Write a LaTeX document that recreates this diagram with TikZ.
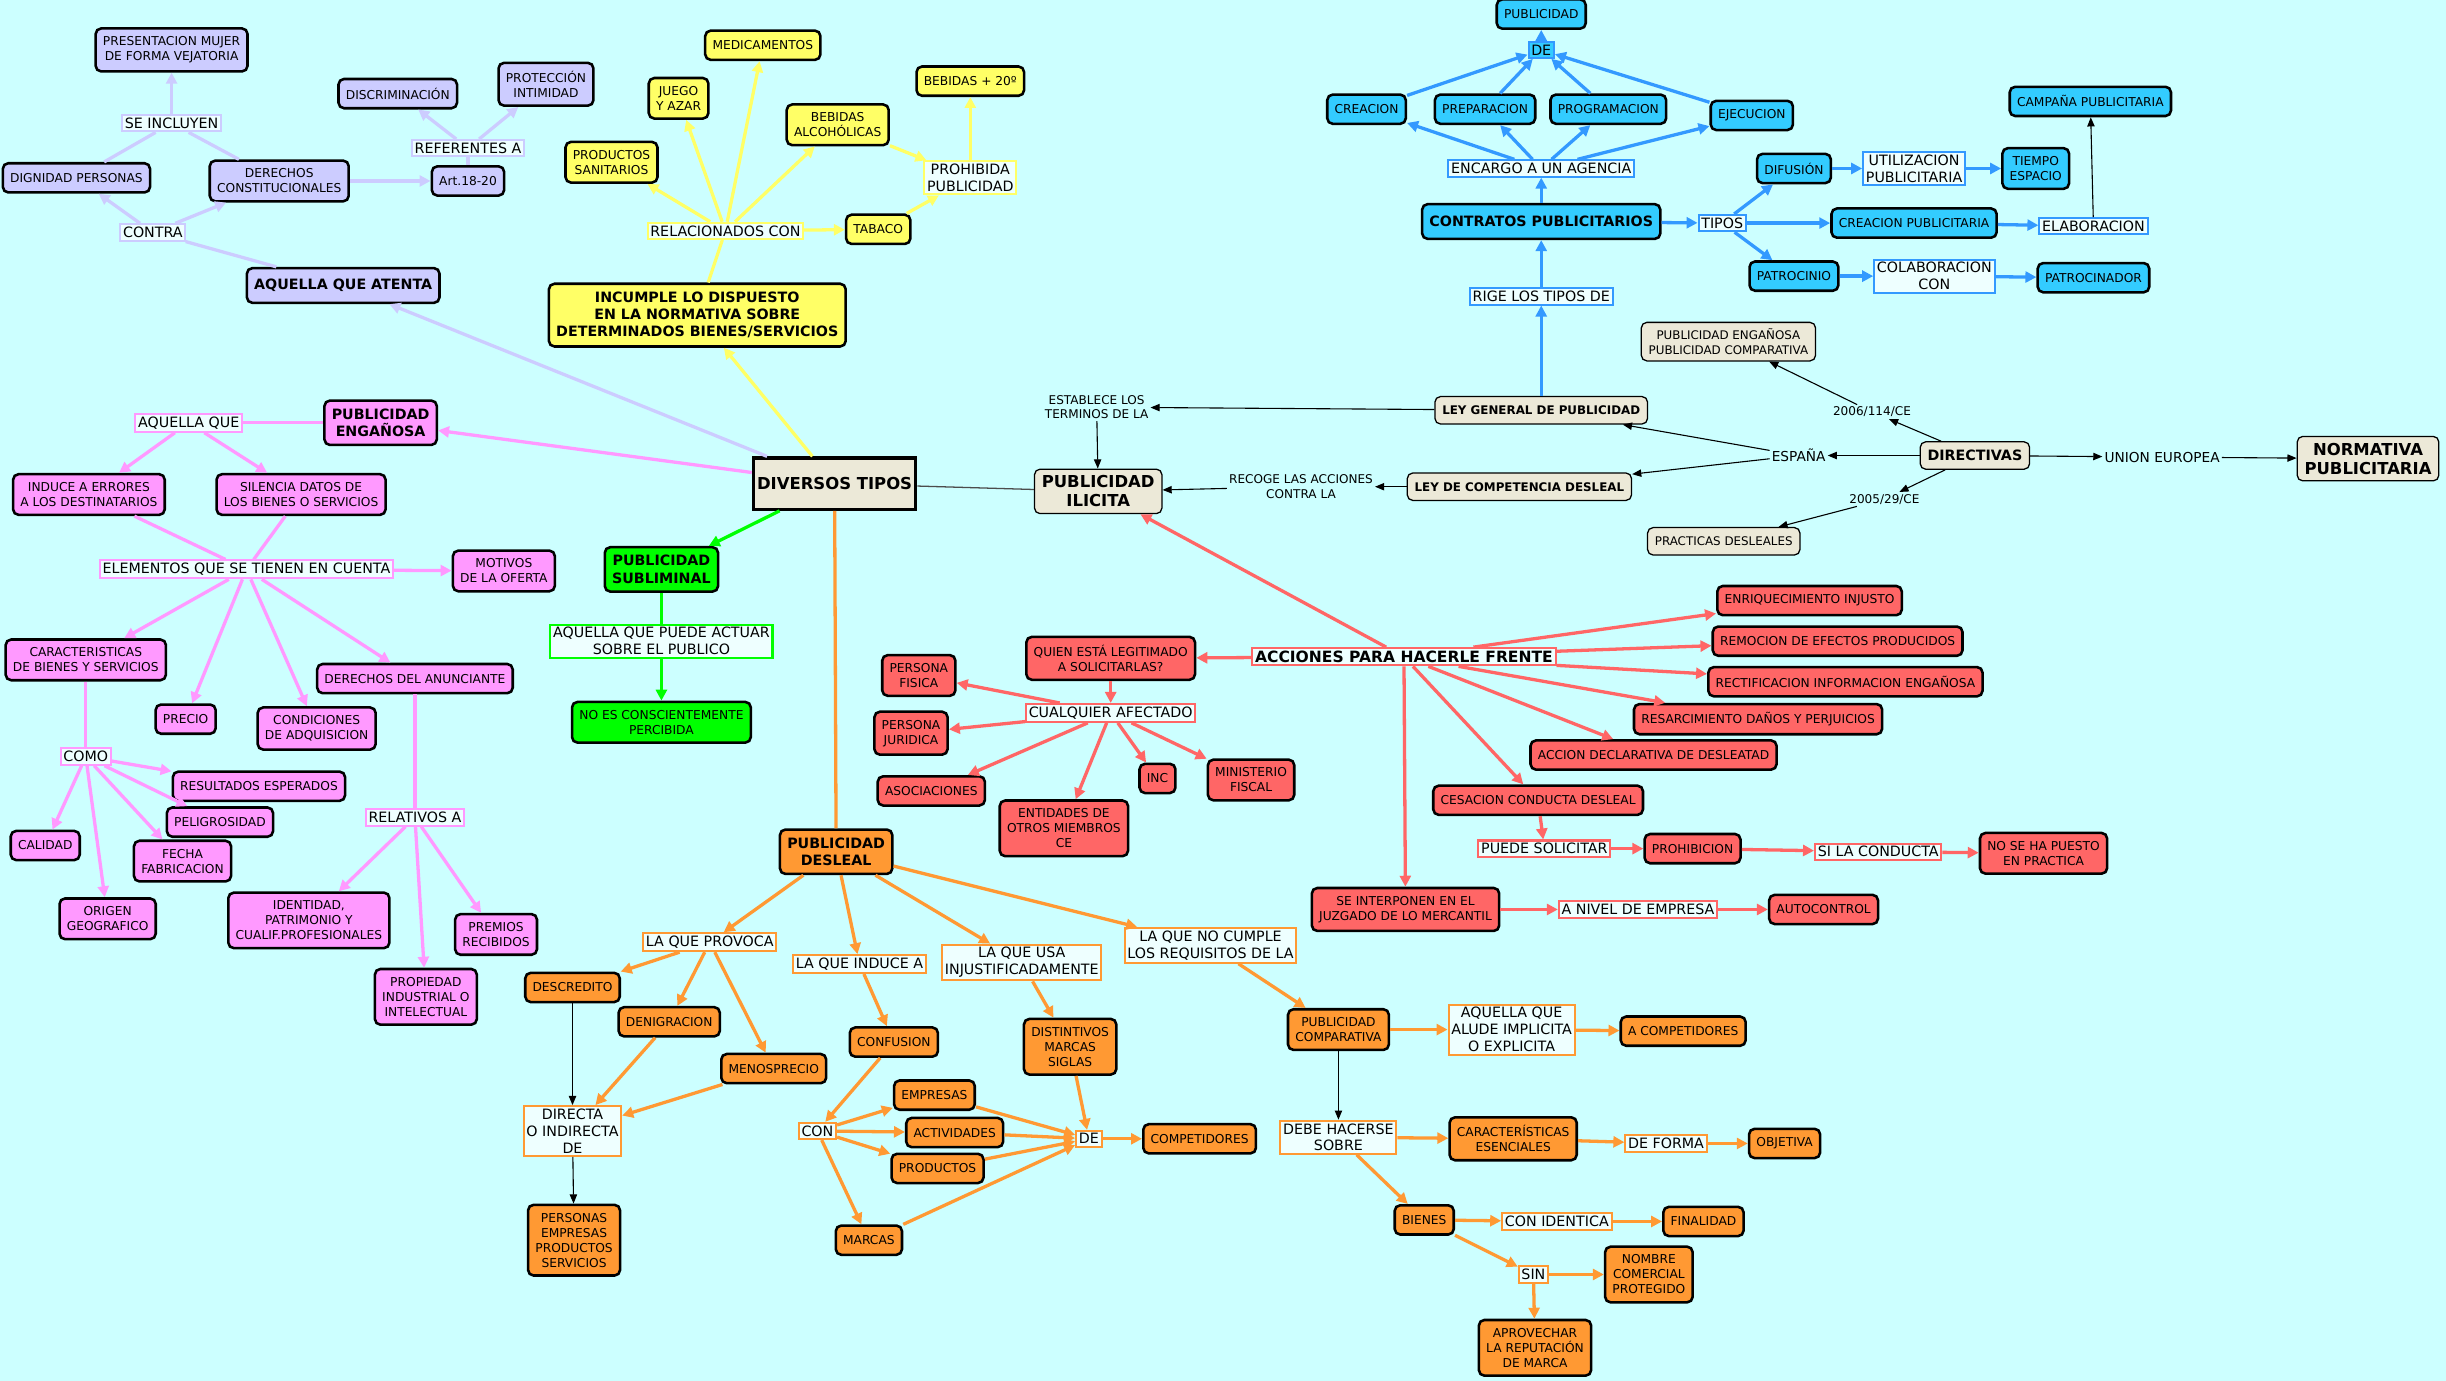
\documentclass[tikz,border=0pt]{standalone}
\usepackage{fontspec}
\setmainfont{DejaVu Sans}
\usepackage{tikz}
\usetikzlibrary{arrows.meta}
\definecolor{MapBg}{RGB}{204,255,255}
\definecolor{MapLinkBg}{RGB}{238,255,255}
\definecolor{MapLav}{RGB}{204,204,255}
\definecolor{MapYellow}{RGB}{255,255,102}
\definecolor{MapBlue}{RGB}{51,204,255}
\definecolor{MapBlueLine}{RGB}{51,153,255}
\definecolor{MapPink}{RGB}{255,153,255}
\definecolor{MapGreen}{RGB}{0,255,0}
\definecolor{MapRed}{RGB}{255,102,102}
\definecolor{MapOrange}{RGB}{255,153,51}
\definecolor{MapBeige}{RGB}{236,233,216}

\begin{document}
\begin{tikzpicture}[
x=0.03cm,y=-0.03cm,
>={Triangle[length=6pt,width=6pt]},
concept/.style={
draw=black,
line width=1.4pt,
rounded corners=3pt,
align=center,
font=\fontsize{6.7}{8.2}\selectfont,
inner xsep=4pt,
inner ysep=4.5pt,
minimum height=16pt
},
title/.style={concept,font=\fontsize{7.8}{9.4}\selectfont\bfseries,minimum height=19pt},
plain/.style={
draw=black,
line width=0.7pt,
rounded corners=3pt,
fill=MapBeige,
align=center,
font=\fontsize{6.5}{8}\selectfont,
inner xsep=4pt,
inner ysep=3.5pt,
minimum height=15pt
},
linkph/.style={line width=1.1pt,fill=MapLinkBg,align=center,font=\fontsize{7.8}{9.2}\selectfont,inner xsep=1.5pt,inner ysep=1.5pt},
lavlink/.style={linkph,draw=MapLav},
yellink/.style={linkph,draw=MapYellow},
bluelink/.style={linkph,draw=MapBlueLine},
pinklink/.style={linkph,draw=MapPink},
greenlink/.style={linkph,draw=MapGreen},
redlink/.style={linkph,draw=MapRed},
oranlink/.style={linkph,draw=MapOrange},
note/.style={align=center,font=\fontsize{6.6}{8}\selectfont,inner sep=1pt},
lavedge/.style={draw=MapLav,line width=1.8pt},
yeledge/.style={draw=MapYellow,line width=1.8pt},
blueedge/.style={draw=MapBlueLine,line width=1.8pt},
pinkedge/.style={draw=MapPink,line width=1.8pt},
greenedge/.style={draw=MapGreen,line width=1.8pt},
rededge/.style={draw=MapRed,line width=1.8pt},
oranedge/.style={draw=MapOrange,line width=1.8pt},
blackedge/.style={draw=black,line width=0.6pt,-{Triangle[length=5pt,width=4pt]}}
]

\fill[MapBg] (0,0) rectangle (1568,885);
\useasboundingbox (0,0) rectangle (1568,885);

% centre
\node[draw=black,line width=1.8pt,fill=MapBeige,font=\fontsize{9}{11}\selectfont\bfseries,minimum height=28pt,inner xsep=2pt] (diversos) at (535,310) {DIVERSOS TIPOS};
\node[plain,font=\fontsize{9}{10.5}\selectfont\bfseries] (ilicita) at (704,315) {PUBLICIDAD\\ILICITA};

% lavanda
\node[concept,fill=MapLav] (mujer) at (110,32) {PRESENTACION MUJER\\DE FORMA VEJATORIA};
\node[lavlink] (incluyen) at (110,79) {SE INCLUYEN};
\node[concept,fill=MapLav] (dignidad) at (49,114) {DIGNIDAD PERSONAS};
\node[concept,fill=MapLav] (derechos) at (179,116) {DERECHOS\\CONSTITUCIONALES};
\node[lavlink] (contra) at (98,149) {CONTRA};
\node[title,fill=MapLav] (atenta) at (220,183) {AQUELLA QUE ATENTA};
\node[concept,fill=MapLav] (articulo) at (300,116) {Art.18-20};
\node[lavlink] (referentes) at (300,95) {REFERENTES A};
\node[concept,fill=MapLav] (discrim) at (255,60) {DISCRIMINACIÓN};
\node[concept,fill=MapLav] (intimidad) at (350,54) {PROTECCIÓN\\INTIMIDAD};

% amarillo
\node[title,fill=MapYellow] (incumple) at (447,202) {INCUMPLE LO DISPUESTO\\EN LA NORMATIVA SOBRE\\DETERMINADOS BIENES/SERVICIOS};
\node[yellink] (relac) at (465,148) {RELACIONADOS CON};
\node[concept,fill=MapYellow] (medic) at (489,29) {MEDICAMENTOS};
\node[concept,fill=MapYellow] (juego) at (435,63) {JUEGO\\Y AZAR};
\node[concept,fill=MapYellow] (sanit) at (392,104) {PRODUCTOS\\SANITARIOS};
\node[concept,fill=MapYellow] (alcohol) at (537,80) {BEBIDAS\\ALCOHÓLICAS};
\node[concept,fill=MapYellow] (tabaco) at (563,147) {TABACO};
\node[yellink] (prohibida) at (622,114) {PROHIBIDA\\PUBLICIDAD};
\node[concept,fill=MapYellow] (grados) at (622,52) {BEBIDAS + 20º};

% azul
\node[concept,fill=MapBlue] (publicidad) at (988,9) {PUBLICIDAD};
\node[linkph,draw=MapBlueLine,fill=MapBlue] (de) at (988,32) {DE};
\node[concept,fill=MapBlue] (creacion) at (876,70) {CREACION};
\node[concept,fill=MapBlue] (preparacion) at (952,70) {PREPARACION};
\node[concept,fill=MapBlue] (programacion) at (1031,70) {PROGRAMACION};
\node[concept,fill=MapBlue] (ejecucion) at (1123,74) {EJECUCION};
\node[bluelink] (encargo) at (988,108) {ENCARGO A UN AGENCIA};
\node[title,fill=MapBlue] (contratos) at (988,142) {CONTRATOS PUBLICITARIOS};
\node[bluelink] (tipos) at (1104,143) {TIPOS};
\node[concept,fill=MapBlue] (difusion) at (1150,108) {DIFUSIÓN};
\node[bluelink] (utiliz) at (1227,108) {UTILIZACION\\PUBLICITARIA};
\node[concept,fill=MapBlue] (tiempo) at (1305,108) {TIEMPO\\ESPACIO};
\node[concept,fill=MapBlue] (creapub) at (1227,143) {CREACION PUBLICITARIA};
\node[bluelink] (elabor) at (1342,145) {ELABORACION};
\node[concept,fill=MapBlue] (campana) at (1340,65) {CAMPAÑA PUBLICITARIA};
\node[concept,fill=MapBlue] (patrocinio) at (1150,177) {PATROCINIO};
\node[bluelink] (colabor) at (1240,177) {COLABORACION\\CON};
\node[concept,fill=MapBlue] (patrocinador) at (1342,178) {PATROCINADOR};
\node[bluelink] (rige) at (988,190) {RIGE LOS TIPOS DE};

% normativa
\node[plain,font=\fontsize{9}{10.5}\selectfont\bfseries] (normativa) at (1518,294) {NORMATIVA\\PUBLICITARIA};
\node[plain,font=\fontsize{7.8}{9}\selectfont\bfseries] (directivas) at (1266,292) {DIRECTIVAS};
\node[note,font=\fontsize{7.5}{9}\selectfont] (ue) at (1386,293) {UNION EUROPEA};
\node[note,font=\fontsize{7.5}{9}\selectfont] (espana) at (1153,292) {ESPAÑA};
\node[note] (d2006) at (1200,264) {2006/114/CE};
\node[note] (d2005) at (1208,320) {2005/29/CE};
\node[plain] (engcomp) at (1108,219) {PUBLICIDAD ENGAÑOSA\\PUBLICIDAD COMPARATIVA};
\node[plain] (practicas) at (1105,347) {PRACTICAS DESLEALES};
\node[plain,font=\fontsize{6.5}{8}\selectfont\bfseries] (lgp) at (988,263) {LEY GENERAL DE PUBLICIDAD};
\node[plain,font=\fontsize{6.5}{8}\selectfont\bfseries] (lcd) at (974,312) {LEY DE COMPETENCIA DESLEAL};
\node[note] (recoge) at (834,312) {RECOGE LAS ACCIONES\\CONTRA LA};
\node[note] (establece) at (703,261) {ESTABLECE LOS\\TERMINOS DE LA};

% rosa
\node[title,fill=MapPink] (enganosa) at (244,271) {PUBLICIDAD\\ENGAÑOSA};
\node[pinklink] (aquella) at (121,271) {AQUELLA QUE};
\node[concept,fill=MapPink] (induce) at (57,317) {INDUCE A ERRORES\\A LOS DESTINATARIOS};
\node[concept,fill=MapPink] (silencia) at (193,317) {SILENCIA DATOS DE\\LOS BIENES O SERVICIOS};
\node[pinklink] (elementos) at (158,365) {ELEMENTOS QUE SE TIENEN EN CUENTA};
\node[concept,fill=MapPink] (motivos) at (323,366) {MOTIVOS\\DE LA OFERTA};
\node[concept,fill=MapPink] (caract) at (55,423) {CARACTERISTICAS\\DE BIENES Y SERVICIOS};
\node[concept,fill=MapPink] (precio) at (119,461) {PRECIO};
\node[concept,fill=MapPink] (condic) at (203,467) {CONDICIONES\\DE ADQUISICION};
\node[concept,fill=MapPink] (anunciante) at (266,435) {DERECHOS DEL ANUNCIANTE};
\node[pinklink] (como) at (55,485) {COMO};
\node[concept,fill=MapPink] (resultados) at (166,504) {RESULTADOS ESPERADOS};
\node[concept,fill=MapPink] (peligro) at (141,527) {PELIGROSIDAD};
\node[concept,fill=MapPink] (calidad) at (29,542) {CALIDAD};
\node[concept,fill=MapPink] (fecha) at (117,552) {FECHA\\FABRICACION};
\node[concept,fill=MapPink] (origen) at (69,589) {ORIGEN\\GEOGRAFICO};
\node[pinklink] (relativos) at (266,524) {RELATIVOS A};
\node[concept,fill=MapPink] (identidad) at (198,590) {IDENTIDAD,\\PATRIMONIO Y\\CUALIF.PROFESIONALES};
\node[concept,fill=MapPink] (propiedad) at (273,639) {PROPIEDAD\\INDUSTRIAL O\\INTELECTUAL};
\node[concept,fill=MapPink] (premios) at (318,599) {PREMIOS\\RECIBIDOS};

% verde
\node[title,fill=MapGreen] (subliminal) at (424,365) {PUBLICIDAD\\SUBLIMINAL};
\node[greenlink] (actuar) at (424,411) {AQUELLA QUE PUEDE ACTUAR\\SOBRE EL PUBLICO};
\node[concept,fill=MapGreen] (percibida) at (424,463) {NO ES CONSCIENTEMENTE\\PERCIBIDA};

% rojo
\node[redlink,font=\fontsize{8.5}{10}\selectfont\bfseries] (acciones) at (900,421) {ACCIONES PARA HACERLE FRENTE};
\node[concept,fill=MapRed] (enriq) at (1160,385) {ENRIQUECIMIENTO INJUSTO};
\node[concept,fill=MapRed] (remocion) at (1178,411) {REMOCION DE EFECTOS PRODUCIDOS};
\node[concept,fill=MapRed] (rectif) at (1183,437) {RECTIFICACION INFORMACION ENGAÑOSA};
\node[concept,fill=MapRed] (resarc) at (1127,461) {RESARCIMIENTO DAÑOS Y PERJUICIOS};
\node[concept,fill=MapRed] (declarativa) at (1060,484) {ACCION DECLARATIVA DE DESLEATAD};
\node[concept,fill=MapRed] (cesacion) at (986,513) {CESACION CONDUCTA DESLEAL};
\node[redlink] (puede) at (990,544) {PUEDE SOLICITAR};
\node[concept,fill=MapRed] (prohibicion) at (1085,544) {PROHIBICION};
\node[redlink] (siconducta) at (1204,546) {SI LA CONDUCTA};
\node[concept,fill=MapRed] (practica) at (1310,547) {NO SE HA PUESTO\\EN PRACTICA};
\node[concept,fill=MapRed] (juzgado) at (901,583) {SE INTERPONEN EN EL\\JUZGADO DE LO MERCANTIL};
\node[redlink] (nivel) at (1050,583) {A NIVEL DE EMPRESA};
\node[concept,fill=MapRed] (autocontrol) at (1169,583) {AUTOCONTROL};
\node[concept,fill=MapRed] (legitimado) at (712,422) {QUIEN ESTÁ LEGITIMADO\\A SOLICITARLAS?};
\node[redlink] (afectado) at (712,457) {CUALQUIER AFECTADO};
\node[concept,fill=MapRed] (fisica) at (589,433) {PERSONA\\FISICA};
\node[concept,fill=MapRed] (juridica) at (584,470) {PERSONA\\JURIDICA};
\node[concept,fill=MapRed] (asociaciones) at (597,507) {ASOCIACIONES};
\node[concept,fill=MapRed] (entidades) at (682,531) {ENTIDADES DE\\OTROS MIEMBROS\\CE};
\node[concept,fill=MapRed] (inc) at (742,499) {INC};
\node[concept,fill=MapRed] (fiscal) at (802,500) {MINISTERIO\\FISCAL};

% naranja
\node[title,fill=MapOrange] (desleal) at (536,546) {PUBLICIDAD\\DESLEAL};
\node[oranlink] (provoca) at (455,604) {LA QUE PROVOCA};
\node[concept,fill=MapOrange] (descredito) at (367,633) {DESCREDITO};
\node[concept,fill=MapOrange] (denigracion) at (429,655) {DENIGRACION};
\node[concept,fill=MapOrange] (menosprecio) at (496,685) {MENOSPRECIO};
\node[oranlink] (directa) at (367,725) {DIRECTA\\O INDIRECTA\\DE};
\node[concept,fill=MapOrange] (personas) at (368,795) {PERSONAS\\EMPRESAS\\PRODUCTOS\\SERVICIOS};
\node[oranlink] (induceA) at (551,618) {LA QUE INDUCE A};
\node[concept,fill=MapOrange] (confusion) at (573,668) {CONFUSION};
\node[oranlink] (con) at (524,725) {CON};
\node[concept,fill=MapOrange] (empresas) at (599,702) {EMPRESAS};
\node[concept,fill=MapOrange] (actividades) at (612,726) {ACTIVIDADES};
\node[concept,fill=MapOrange] (productos) at (601,749) {PRODUCTOS};
\node[concept,fill=MapOrange] (marcas) at (557,795) {MARCAS};
\node[oranlink] (usa) at (655,617) {LA QUE USA\\INJUSTIFICADAMENTE};
\node[concept,fill=MapOrange] (distintivos) at (686,671) {DISTINTIVOS\\MARCAS\\SIGLAS};
\node[oranlink] (deComp) at (698,730) {DE};
\node[concept,fill=MapOrange] (competidores) at (769,730) {COMPETIDORES};
\node[oranlink] (nocumple) at (776,606) {LA QUE NO CUMPLE\\LOS REQUISITOS DE LA};
\node[concept,fill=MapOrange] (comparativa) at (858,660) {PUBLICIDAD\\COMPARATIVA};
\node[oranlink] (alude) at (969,660) {AQUELLA QUE\\ALUDE IMPLICITA\\O EXPLICITA};
\node[concept,fill=MapOrange] (acompet) at (1079,661) {A COMPETIDORES};
\node[oranlink] (debe) at (858,729) {DEBE HACERSE\\SOBRE};
\node[concept,fill=MapOrange] (esenciales) at (970,730) {CARACTERÍSTICAS\\ESENCIALES};
\node[oranlink] (forma) at (1068,733) {DE FORMA};
\node[concept,fill=MapOrange] (objetiva) at (1144,733) {OBJETIVA};
\node[concept,fill=MapOrange] (bienes) at (913,782) {BIENES};
\node[oranlink] (identica) at (998,783) {CON IDENTICA};
\node[concept,fill=MapOrange] (finalidad) at (1092,783) {FINALIDAD};
\node[oranlink] (sin) at (983,817) {SIN};
\node[concept,fill=MapOrange] (nombre) at (1057,817) {NOMBRE\\COMERCIAL\\PROTEGIDO};
\node[concept,fill=MapOrange] (reputacion) at (984,864) {APROVECHAR\\LA REPUTACIÓN\\DE MARCA};

% conectores lavanda
\draw[lavedge,->] (diversos) -- (atenta);
\draw[lavedge] (atenta) -- (contra);
\draw[lavedge,->] (contra) -- (dignidad);
\draw[lavedge,->] (contra) -- (derechos);
\draw[lavedge] (dignidad) -- (incluyen);
\draw[lavedge] (derechos) -- (incluyen);
\draw[lavedge,->] (incluyen) -- (mujer);
\draw[lavedge,->] (derechos) -- (articulo);
\draw[lavedge] (articulo) -- (referentes);
\draw[lavedge,->] (referentes) -- (discrim);
\draw[lavedge,->] (referentes) -- (intimidad);

% conectores amarillo
\draw[yeledge,->] (diversos) -- (incumple);
\draw[yeledge] (incumple) -- (relac);
\draw[yeledge,->] (relac) -- (medic);
\draw[yeledge,->] (relac) -- (juego);
\draw[yeledge,->] (relac) -- (sanit);
\draw[yeledge,->] (relac) -- (alcohol);
\draw[yeledge,->] (relac) -- (tabaco);
\draw[yeledge,->] (alcohol) -- (prohibida);
\draw[yeledge,->] (tabaco) -- (prohibida);
\draw[yeledge,->] (prohibida) -- (grados);

% conectores azul
\draw[blueedge,->] (lgp) -- (rige);
\draw[blueedge,->] (rige) -- (contratos);
\draw[blueedge,->] (contratos) -- (encargo);
\draw[blueedge,->] (encargo) -- (creacion);
\draw[blueedge,->] (encargo) -- (preparacion);
\draw[blueedge,->] (encargo) -- (programacion);
\draw[blueedge,->] (encargo) -- (ejecucion);
\draw[blueedge,->] (creacion) -- (de);
\draw[blueedge,->] (preparacion) -- (de);
\draw[blueedge,->] (programacion) -- (de);
\draw[blueedge,->] (ejecucion) -- (de);
\draw[blueedge,->] (de) -- (publicidad);
\draw[blueedge,->] (contratos) -- (tipos);
\draw[blueedge,->] (tipos) -- (difusion);
\draw[blueedge,->] (tipos) -- (creapub);
\draw[blueedge,->] (tipos) -- (patrocinio);
\draw[blueedge,->] (difusion) -- (utiliz);
\draw[blueedge,->] (utiliz) -- (tiempo);
\draw[blueedge,->] (creapub) -- (elabor);
\draw[blackedge] (elabor) -- (campana);
\draw[blueedge,->] (patrocinio) -- (colabor);
\draw[blueedge,->] (colabor) -- (patrocinador);

% conectores normativa
\draw[blackedge] (directivas) -- (ue);
\draw[blackedge] (ue) -- (normativa);
\draw[blackedge] (directivas) -- (espana);
\draw[blackedge] (directivas) -- (d2006);
\draw[blackedge] (d2006) -- (engcomp);
\draw[blackedge] (directivas) -- (d2005);
\draw[blackedge] (d2005) -- (practicas);
\draw[blackedge] (espana) -- (lgp);
\draw[blackedge] (espana) -- (lcd);
\draw[blackedge] (lgp) -- (establece);
\draw[blackedge] (establece) -- (ilicita);
\draw[blackedge] (lcd) -- (recoge);
\draw[blackedge] (recoge) -- (ilicita);
\draw[black!70,line width=0.7pt] (diversos) -- (ilicita);

% conectores rosa
\draw[pinkedge,->] (diversos) -- (enganosa);
\draw[pinkedge] (enganosa) -- (aquella);
\draw[pinkedge,->] (aquella) -- (induce);
\draw[pinkedge,->] (aquella) -- (silencia);
\draw[pinkedge] (induce) -- (elementos);
\draw[pinkedge] (silencia) -- (elementos);
\draw[pinkedge,->] (elementos) -- (motivos);
\draw[pinkedge,->] (elementos) -- (caract);
\draw[pinkedge,->] (elementos) -- (precio);
\draw[pinkedge,->] (elementos) -- (condic);
\draw[pinkedge,->] (elementos) -- (anunciante);
\draw[pinkedge] (caract) -- (como);
\draw[pinkedge,->] (como) -- (resultados);
\draw[pinkedge,->] (como) -- (peligro);
\draw[pinkedge,->] (como) -- (fecha);
\draw[pinkedge,->] (como) -- (calidad);
\draw[pinkedge,->] (como) -- (origen);
\draw[pinkedge] (anunciante) -- (relativos);
\draw[pinkedge,->] (relativos) -- (identidad);
\draw[pinkedge,->] (relativos) -- (propiedad);
\draw[pinkedge,->] (relativos) -- (premios);

% conectores verde
\draw[greenedge,->] (diversos) -- (subliminal);
\draw[greenedge] (subliminal) -- (actuar);
\draw[greenedge,->] (actuar) -- (percibida);

% conectores rojo
\draw[rededge,->] (acciones) -- (ilicita);
\draw[rededge,->] (acciones) -- (legitimado);
\draw[rededge,->] (acciones) -- (enriq);
\draw[rededge,->] (acciones) -- (remocion);
\draw[rededge,->] (acciones) -- (rectif);
\draw[rededge,->] (acciones) -- (resarc);
\draw[rededge,->] (acciones) -- (declarativa);
\draw[rededge,->] (acciones) -- (cesacion);
\draw[rededge,->] (acciones) -- (juzgado);
\draw[rededge,->] (legitimado) -- (afectado);
\draw[rededge,->] (afectado) -- (fisica);
\draw[rededge,->] (afectado) -- (juridica);
\draw[rededge,->] (afectado) -- (asociaciones);
\draw[rededge,->] (afectado) -- (entidades);
\draw[rededge,->] (afectado) -- (inc);
\draw[rededge,->] (afectado) -- (fiscal);
\draw[rededge,->] (cesacion) -- (puede);
\draw[rededge,->] (puede) -- (prohibicion);
\draw[rededge,->] (prohibicion) -- (siconducta);
\draw[rededge,->] (siconducta) -- (practica);
\draw[rededge,->] (juzgado) -- (nivel);
\draw[rededge,->] (nivel) -- (autocontrol);

% conectores naranja
\draw[oranedge] (diversos) -- (desleal);
\draw[oranedge,->] (desleal) -- (provoca);
\draw[oranedge,->] (desleal) -- (induceA);
\draw[oranedge,->] (desleal) -- (usa);
\draw[oranedge,->] (desleal) -- (nocumple);
\draw[oranedge,->] (provoca) -- (descredito);
\draw[oranedge,->] (provoca) -- (denigracion);
\draw[oranedge,->] (provoca) -- (menosprecio);
\draw[blackedge] (descredito) -- (directa);
\draw[oranedge,->] (denigracion) -- (directa);
\draw[oranedge,->] (menosprecio) -- (directa);
\draw[blackedge] (directa) -- (personas);
\draw[oranedge,->] (induceA) -- (confusion);
\draw[oranedge,->] (confusion) -- (con);
\draw[oranedge,->] (con) -- (empresas);
\draw[oranedge,->] (con) -- (actividades);
\draw[oranedge,->] (con) -- (productos);
\draw[oranedge,->] (con) -- (marcas);
\draw[oranedge,->] (empresas) -- (deComp);
\draw[oranedge,->] (actividades) -- (deComp);
\draw[oranedge,->] (productos) -- (deComp);
\draw[oranedge,->] (marcas) -- (deComp);
\draw[oranedge,->] (usa) -- (distintivos);
\draw[oranedge,->] (distintivos) -- (deComp);
\draw[oranedge,->] (deComp) -- (competidores);
\draw[oranedge,->] (nocumple) -- (comparativa);
\draw[oranedge,->] (comparativa) -- (alude);
\draw[oranedge,->] (alude) -- (acompet);
\draw[blackedge] (comparativa) -- (debe);
\draw[oranedge,->] (debe) -- (esenciales);
\draw[oranedge,->] (esenciales) -- (forma);
\draw[oranedge,->] (forma) -- (objetiva);
\draw[oranedge,->] (debe) -- (bienes);
\draw[oranedge,->] (bienes) -- (identica);
\draw[oranedge,->] (identica) -- (finalidad);
\draw[oranedge,->] (bienes) -- (sin);
\draw[oranedge,->] (sin) -- (nombre);
\draw[oranedge,->] (sin) -- (reputacion);

\end{tikzpicture}
\end{document}
